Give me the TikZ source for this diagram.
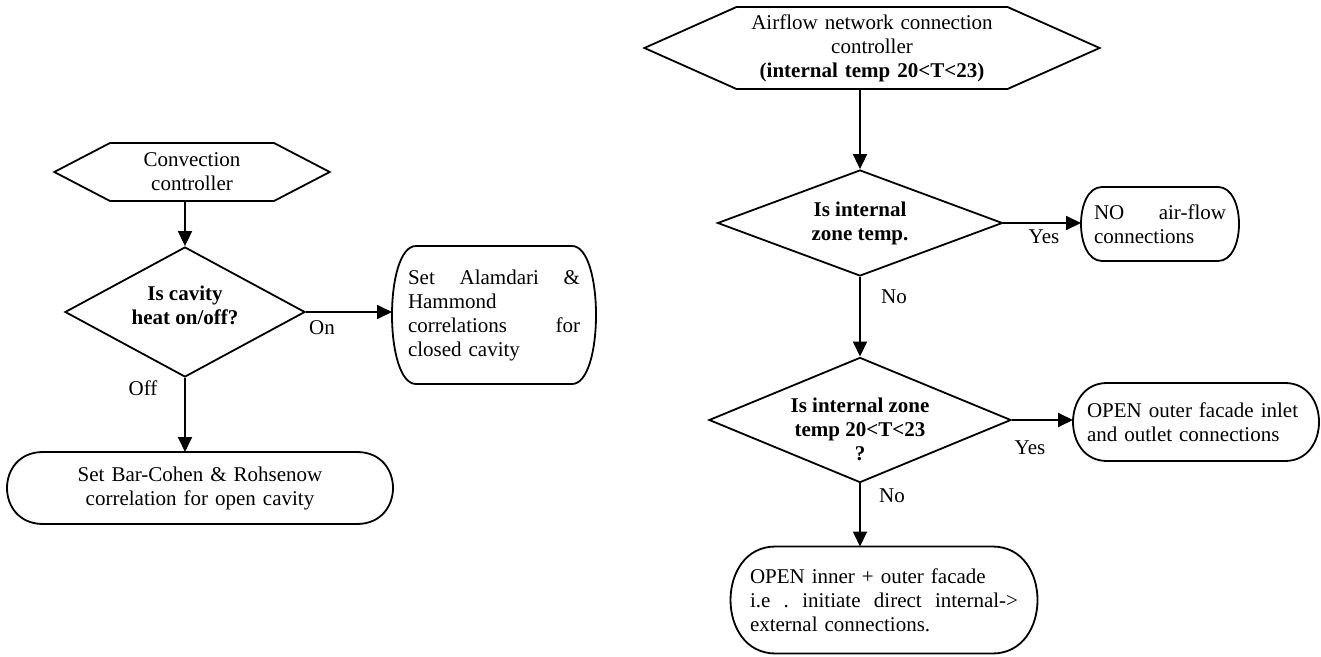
\documentclass[tikz,border=0pt]{standalone}
\usepackage{fontspec}
\setmainfont{Liberation Serif}
\usetikzlibrary{shapes.geometric,shapes.symbols,arrows.meta}

\hyphenpenalty=10000
\exhyphenpenalty=10000

\tikzset{
  txt/.style={font=\fontsize{10.5pt}{12pt}\selectfont},
  ctrl/.style={txt, draw, line width=0.9pt, signal, signal to=west and east, align=center, inner ysep=0pt},
  decision/.style={draw, diamond, line width=0.9pt, align=center, inner sep=-12pt,
    font=\fontsize{10.5pt}{12pt}\selectfont\bfseries},
  action/.style={txt, rectangle, align=left, inner ysep=0pt, outer sep=0pt},
  flow/.style={line width=0.9pt, -{Triangle[length=7.5pt,width=7pt]}},
  answer/.style={txt, inner sep=0pt},
}

% outline with bulging ends round an action node (#2 = bulge)
\newcommand{\termoutline}[2]{%
  \draw[line width=0.9pt] ([shift={(#2,0)}]#1.north west) -- ([shift={(-#2,0)}]#1.north east)
    .. controls +({4/3*#2},0) and +({4/3*#2},0) .. ([shift={(-#2,0)}]#1.south east)
    -- ([shift={(#2,0)}]#1.south west)
    .. controls +({-4/3*#2},0) and +({-4/3*#2},0) .. cycle;}

\begin{document}
\begin{tikzpicture}[x=0.5pt,y=-0.5pt]

\useasboundingbox (0,0) rectangle (1321,657);

% Convection controller (left chart)
\node[ctrl, signal pointer angle=55, text width=56pt, inner xsep=13pt, minimum height=29pt]
  (convCtrl) at (192,172) {Convection\\controller};
\node[decision, minimum width=120pt, minimum height=65pt] (cavHeat) at (185,312)
  {Is cavity\\heat on/off?\rule[-7pt]{0pt}{0pt}};
\node[action, text width=86pt, inner xsep=8pt, minimum height=69pt]
  (closedCav) at (494,315) {Set\hfill Alamdari\hfill \&\\Hammond\\correlations\hfill for\\closed cavity};
\node[action, align=center, text width=130pt, inner xsep=31.5pt, minimum height=36pt]
  (openCav) at (200,488) {Set Bar-Cohen \& Rohsenow\\correlation for open cavity};
\termoutline{closedCav}{24}
\termoutline{openCav}{36}

\draw[flow] (cavHeat.north |- convCtrl.south) -- (cavHeat.north);
\draw[flow] (cavHeat.east) -- (cavHeat.east -| closedCav.west);
\draw[flow] (cavHeat.south) -- (cavHeat.south |- openCav.north);

\node[answer] (lblOn) at (322,328) {On};
\node[answer] (lblOff) at (143,388) {Off};

% Airflow network connection controller (right chart)
\node[ctrl, signal pointer angle=48, text width=130pt, inner xsep=2.75pt, minimum height=41pt]
  (netCtrl) at (872,48) {Airflow network connection\\controller\\\textbf{(internal temp 20<T<23)}};
\node[decision, minimum width=142.5pt, minimum height=53pt] (zoneTemp) at (860,223) {Is internal\\zone temp.};
\node[decision, minimum width=151pt, minimum height=62pt] (zoneRange) at (860,420)
  {\rule{0pt}{17pt}Is internal zone\\temp 20<T<23\\?};
\node[action, text width=66pt, inner xsep=6.5pt, minimum height=37pt]
  (noFlow) at (1160,224) {NO\hfill air-flow\\connections};
\node[action, text width=109pt, inner xsep=7pt, minimum height=39pt]
  (outerOpen) at (1196,422) {OPEN outer facade inlet\\and outlet connections};
\node[action, text width=134pt, inner xsep=9.75pt, minimum height=53.5pt]
  (bothOpen) at (884,600) {OPEN inner + outer facade\\i.e\hfill.\hfill initiate\hfill direct\hfill internal->\\external connections.};
\termoutline{noFlow}{21}
\termoutline{outerOpen}{34}
\termoutline{bothOpen}{45}

\draw[flow] (zoneTemp.north |- netCtrl.south) -- (zoneTemp.north);
\draw[flow] (zoneTemp.east) -- (zoneTemp.east -| noFlow.west);
\draw[flow] (zoneTemp.south) -- (zoneRange.north);
\draw[flow] (zoneRange.east) -- (zoneRange.east -| outerOpen.west);
\draw[flow] (zoneRange.south) -- (zoneRange.south |- bothOpen.north);

% Yes / No answers
\node[answer] (lblYesA) at (1044,237) {Yes};
\node[answer] (lblNoA) at (894,297) {No};
\node[answer] (lblYesB) at (1030,448) {Yes};
\node[answer] (lblNoB) at (892,496) {No};

\end{tikzpicture}
\end{document}
